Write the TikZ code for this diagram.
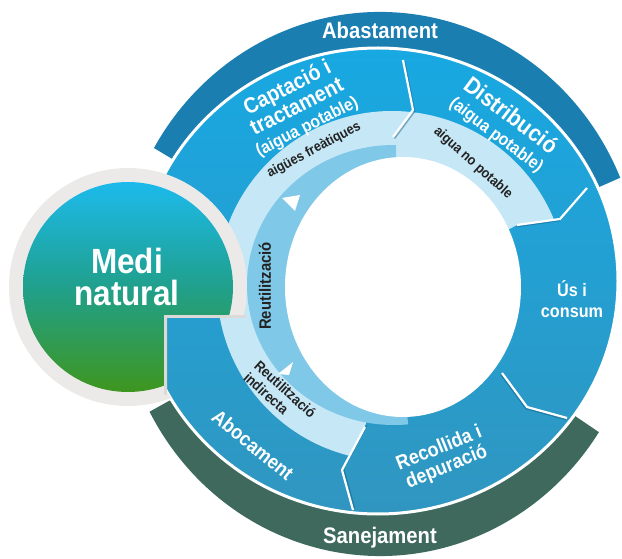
\documentclass[tikz,border=0pt]{standalone}
\usepackage{fontspec}
\setmainfont{Liberation Sans}
\newfontfamily\lab[FakeStretch=0.9]{Liberation Sans}
\definecolor{bandblue}{RGB}{27,126,177}
\definecolor{bandgreen}{RGB}{62,105,92}
\definecolor{ringtop}{RGB}{24,168,226}
\definecolor{ringbot}{RGB}{48,150,192}
\definecolor{pale}{RGB}{198,231,246}
\definecolor{midb}{RGB}{128,200,232}
\definecolor{halo}{RGB}{236,234,232}
\definecolor{medtop}{RGB}{28,186,236}
\definecolor{medmid}{RGB}{32,160,140}
\definecolor{medbot}{RGB}{62,150,30}
\definecolor{darktxt}{RGB}{34,34,34}
\definecolor{chevshadow}{RGB}{20,90,130}
\begin{document}
\begin{tikzpicture}[x=1pt,y=1pt,
  wlabel/.style={text=white, font=\lab\bfseries, align=center, inner sep=0pt},
  dlabel/.style={text=darktxt, font=\lab\bfseries, align=center, inner sep=0pt},
  chev/.style={draw=white, line width=2.2pt, line join=miter},
  chevsh/.style={draw=chevshadow, opacity=0.45, line width=1.6pt},
  tri/.style={fill=white}
]
\useasboundingbox (0,0) rectangle (622,558);
\fill[white] (0,0) rectangle (622,558);
% outer bands
\fill[bandblue] (380,274) -- ([shift={(380,274)}]23:261 and 272) arc[start angle=23,end angle=150,x radius=261,y radius=272] -- cycle;
\fill[bandgreen] (380,274) -- ([shift={(380,274)}]208:261 and 272) arc[start angle=208,end angle=327,x radius=261,y radius=272] -- cycle;
% main ring
\path[top color=ringtop, bottom color=ringbot, draw=white, line width=3pt] (378,277) ellipse[x radius=240, y radius=233];
% pale band
\begin{scope}
\clip (640,350) -- (560,339) -- (517,333) -- (398,270) -- (365,131) -- (342,88) -- (320,10) -- (-10,10) -- (-10,600) -- (640,600) -- cycle;
\fill[pale] (392,272) circle[radius=175];
\end{scope}
% mid band
\begin{scope}
\clip (396,600) -- (396,270) -- (420,0) -- (-10,0) -- (-10,600) -- cycle;
\fill[midb] (394,273) ellipse[x radius=147, y radius=140];
\end{scope}
% hole
\fill[white] (403,271) ellipse[x radius=118, y radius=130];
% medi natural (kept out of the Abocament corner)
\begin{scope}
\clip (-10,-10) -- (200,-10) -- (192,130) -- (175.5,152) -- (167,166) -- (167,240) -- (700,240) -- (700,600) -- (-10,600) -- cycle;
\fill[halo] (128,271) circle[radius=119];
\shade[top color=medtop, bottom color=medbot, middle color=medmid] (128,271) circle[radius=105];
\end{scope}
\draw[halo!85!gray, line width=3pt] (165.5,163) -- (165.5,241.5) -- (246,241.5);
% chevrons
\draw[chevsh] (404.5,496.5) -- (414.5,446.5) -- (394.5,419.5);
\draw[chev] (403,498) -- (413,448) -- (393,421);
\draw[chevsh] (586,368.5) -- (559,337.5) -- (517,331.5);
\draw[chev] (587,370) -- (560,339) -- (517,333);
\draw[chevsh] (566,138.5) -- (526,149.5) -- (501,183.5);
\draw[chev] (567,140) -- (527,151) -- (502,185);
\draw[chevsh] (354.5,49.5) -- (343.5,89.5) -- (366.5,132.5);
\draw[chev] (353,48) -- (342,88) -- (365,131);
% triangles
\fill[tri] (282,360) -- (300,363) -- (295,347) -- cycle;
\fill[tri] (293,196) -- (278,184) -- (289,183) -- cycle;
% labels
\node[wlabel, font=\lab\bfseries\fontsize{22.5}{24}\selectfont] (abast) at (380,528) {Abastament};
\node[wlabel, font=\lab\bfseries\fontsize{22.5}{24}\selectfont] (sanej) at (380,20) {Sanejament};
\node[wlabel, font=\lab\bfseries\fontsize{35}{32}\selectfont] (medi) at (127,281) {Medi\\natural};
\node[wlabel, rotate=27, font=\lab\bfseries\fontsize{22}{21}\selectfont] (capt) at (297,451) {Captació i\\tractament\\{\fontsize{17.5}{17}\selectfont(aigua potable)}};
\node[wlabel, rotate=-37, font=\lab\bfseries\fontsize{23.5}{22}\selectfont] (distr) at (504,433) {Distribució\\{\fontsize{17.5}{17}\selectfont(aigua potable)}};
\node[dlabel, rotate=28, font=\lab\bfseries\fontsize{14}{15}\selectfont] (freat) at (314,408) {aigües freàtiques};
\node[dlabel, rotate=-42, font=\lab\bfseries\fontsize{14}{15}\selectfont] (nopot) at (473,395) {aigua no potable};
\node[dlabel, rotate=90, font=\lab\bfseries\fontsize{16.5}{17}\selectfont] (reut) at (265,272) {Reutilització};
\node[dlabel, rotate=-42, align=left, font=\lab\bfseries\fontsize{14.5}{16}\selectfont] (reutind) at (280,163) {Reutilització\\indirecta};
\node[wlabel, rotate=-39, font=\lab\bfseries\fontsize{20}{21}\selectfont] (aboc) at (253,113) {Abocament};
\node[wlabel, rotate=22, font=\lab\bfseries\fontsize{20}{20}\selectfont] (recol) at (443,100) {Recollida i\\depuració};
\node[wlabel, font=\lab\bfseries\fontsize{18}{21}\selectfont] (us) at (572,259) {Ús i\\consum};
\end{tikzpicture}
\end{document}
